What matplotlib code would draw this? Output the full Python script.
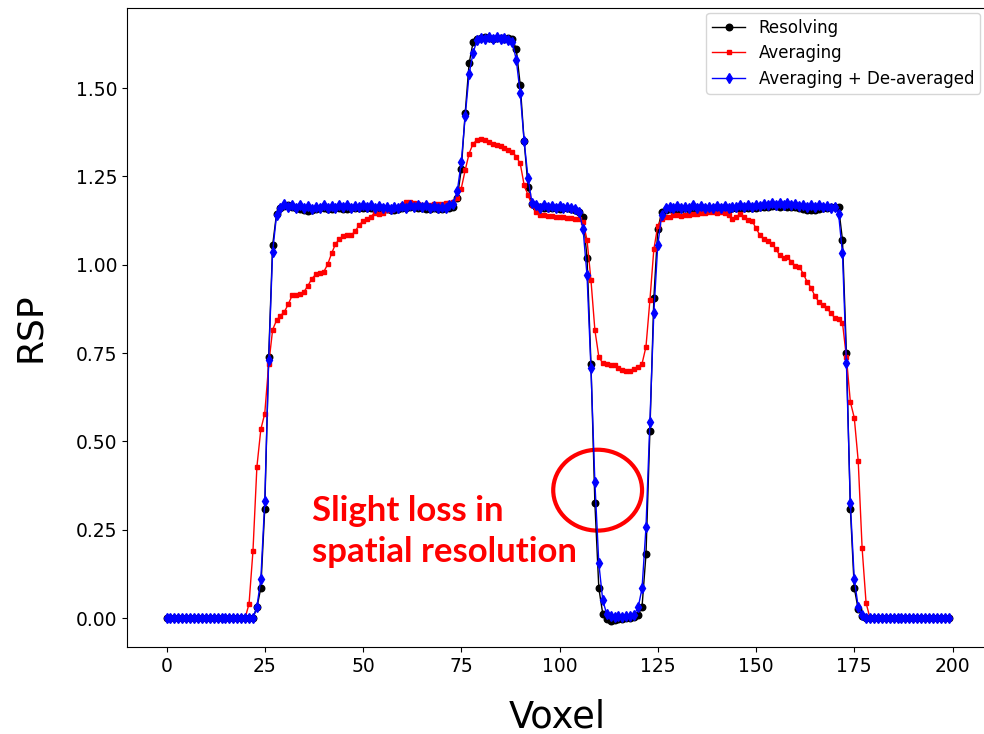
import matplotlib
matplotlib.use("Agg")
import matplotlib.pyplot as plt
from matplotlib.patches import Ellipse
import numpy as np

voxel = list(range(200))

resolving = [
    0, 0, 0, 0, 0, 0, 0, 0, 0, 0,
    0, 0, 0, 0, 0, 0, 0, 0, 0, 0,
    0.0, 0.0, 0.0, 0.03, 0.085, 0.31, 0.74, 1.055, 1.145, 1.16,
    1.166, 1.168, 1.165, 1.16, 1.157, 1.154, 1.153, 1.155, 1.158, 1.16,
    1.16, 1.158, 1.159, 1.161, 1.16, 1.158, 1.159, 1.161, 1.162, 1.162,
    1.162, 1.161, 1.16, 1.158, 1.159, 1.16, 1.158, 1.156, 1.155, 1.157,
    1.16, 1.162, 1.164, 1.164, 1.162, 1.16, 1.158, 1.159, 1.16, 1.158,
    1.159, 1.161, 1.162, 1.165, 1.19, 1.27, 1.43, 1.57, 1.63, 1.64,
    1.643, 1.645, 1.642, 1.64, 1.643, 1.642, 1.64, 1.642, 1.64, 1.61,
    1.51, 1.35, 1.22, 1.172, 1.165, 1.165, 1.162, 1.162, 1.16, 1.16,
    1.158, 1.16, 1.16, 1.158, 1.155, 1.15, 1.135, 1.02, 0.72, 0.325,
    0.085, 0.012, -0.004, -0.008, -0.006, -0.004, -0.002, 0.0, 0.0, 0.002,
    0.008, 0.032, 0.18, 0.53, 0.905, 1.10, 1.15, 1.156, 1.158, 1.157,
    1.156, 1.158, 1.16, 1.159, 1.158, 1.16, 1.161, 1.16, 1.159, 1.16,
    1.16, 1.161, 1.16, 1.159, 1.16, 1.161, 1.162, 1.161, 1.16, 1.161,
    1.162, 1.163, 1.164, 1.165, 1.166, 1.166, 1.165, 1.166, 1.165, 1.164,
    1.163, 1.16, 1.158, 1.155, 1.154, 1.155, 1.157, 1.16, 1.162, 1.163,
    1.164, 1.164, 1.07, 0.75, 0.31, 0.085, 0.025, 0.005, 0.0, 0.0,
    0, 0, 0, 0, 0, 0, 0, 0, 0, 0,
    0, 0, 0, 0, 0, 0, 0, 0, 0, 0,
]

averaging = [
    0, 0, 0, 0, 0, 0, 0, 0, 0, 0,
    0, 0, 0, 0, 0, 0, 0, 0, 0, 0,
    0.0, 0.04, 0.19, 0.428, 0.534, 0.579, 0.718, 0.816, 0.843, 0.856,
    0.867, 0.889, 0.914, 0.914, 0.917, 0.924, 0.941, 0.961, 0.973, 0.976,
    0.98, 1.001, 1.032, 1.059, 1.073, 1.082, 1.084, 1.084, 1.095, 1.112,
    1.124, 1.13, 1.136, 1.148, 1.145, 1.148, 1.155, 1.155, 1.16, 1.165,
    1.17, 1.178, 1.178, 1.175, 1.172, 1.17, 1.168, 1.17, 1.172, 1.172,
    1.172, 1.174, 1.175, 1.178, 1.19, 1.216, 1.268, 1.315, 1.343, 1.353,
    1.355, 1.353, 1.348, 1.343, 1.339, 1.336, 1.33, 1.325, 1.32, 1.306,
    1.287, 1.226, 1.197, 1.169, 1.15, 1.142, 1.14, 1.138, 1.138, 1.136,
    1.135, 1.134, 1.133, 1.132, 1.131, 1.13, 1.122, 1.07, 0.957, 0.815,
    0.74, 0.721, 0.72, 0.717, 0.716, 0.707, 0.702, 0.70, 0.70, 0.706,
    0.711, 0.72, 0.768, 0.90, 1.044, 1.11, 1.13, 1.135, 1.135, 1.14,
    1.14, 1.138, 1.14, 1.142, 1.145, 1.145, 1.148, 1.148, 1.15, 1.15,
    1.148, 1.15, 1.148, 1.14, 1.13, 1.135, 1.145, 1.135, 1.128, 1.125,
    1.103, 1.084, 1.072, 1.068, 1.059, 1.046, 1.027, 1.018, 1.021, 1.009,
    0.996, 0.995, 0.975, 0.952, 0.935, 0.911, 0.895, 0.886, 0.877, 0.864,
    0.85, 0.846, 0.836, 0.738, 0.612, 0.567, 0.445, 0.197, 0.043, 0.0,
    0, 0, 0, 0, 0, 0, 0, 0, 0, 0,
    0, 0, 0, 0, 0, 0, 0, 0, 0, 0,
]

deaveraged = [
    0, 0, 0, 0, 0, 0, 0, 0, 0, 0,
    0, 0, 0, 0, 0, 0, 0, 0, 0, 0,
    0.0, 0.0, 0.0, 0.032, 0.11, 0.33, 0.73, 1.037, 1.14, 1.162,
    1.172, 1.165, 1.17, 1.162, 1.168, 1.16, 1.166, 1.158, 1.165, 1.162,
    1.168, 1.16, 1.166, 1.162, 1.17, 1.163, 1.168, 1.16, 1.167, 1.163,
    1.17, 1.164, 1.168, 1.162, 1.166, 1.16, 1.165, 1.158, 1.164, 1.16,
    1.166, 1.162, 1.168, 1.164, 1.17, 1.165, 1.168, 1.162, 1.166, 1.16,
    1.165, 1.162, 1.168, 1.172, 1.21, 1.29, 1.42, 1.54, 1.60, 1.635,
    1.642, 1.638, 1.645, 1.64, 1.644, 1.638, 1.642, 1.636, 1.63, 1.58,
    1.485, 1.35, 1.245, 1.175, 1.168, 1.162, 1.168, 1.163, 1.167, 1.16,
    1.166, 1.162, 1.165, 1.16, 1.158, 1.15, 1.10, 0.97, 0.707, 0.384,
    0.155, 0.05, 0.012, 0.005, 0.004, 0.006, 0.004, 0.005, 0.006, 0.01,
    0.03, 0.084, 0.257, 0.556, 0.864, 1.056, 1.14, 1.16, 1.165, 1.16,
    1.166, 1.16, 1.165, 1.162, 1.168, 1.162, 1.166, 1.16, 1.165, 1.162,
    1.167, 1.162, 1.166, 1.16, 1.165, 1.163, 1.168, 1.164, 1.17, 1.165,
    1.17, 1.166, 1.172, 1.168, 1.174, 1.17, 1.175, 1.17, 1.174, 1.168,
    1.172, 1.166, 1.17, 1.165, 1.168, 1.164, 1.168, 1.163, 1.166, 1.162,
    1.165, 1.145, 1.032, 0.721, 0.325, 0.11, 0.032, 0.008, 0.0, 0.0,
    0, 0, 0, 0, 0, 0, 0, 0, 0, 0,
    0, 0, 0, 0, 0, 0, 0, 0, 0, 0,
]

series_labels = ["Resolving", "Averaging", "Averaging + De-averaged"]
xticks = [0, 25, 50, 75, 100, 125, 150, 175, 200]
yticks = [0.00, 0.25, 0.50, 0.75, 1.00, 1.25, 1.50]

W, H = 984, 734
fig = plt.figure(figsize=(W / 100, H / 100), dpi=100)
left, right, bottom, top = 127.4, 987.7, 647, 8
ax_w = right - left
ax_h = bottom - top
ax = fig.add_axes([left / W, (H - bottom) / H, ax_w / W, ax_h / H])

ax.plot(voxel, resolving, color="black", marker="o", markersize=4.7, linewidth=1.0, label=series_labels[0])
ax.plot(voxel, averaging, color="red", marker="s", markersize=2.6, linewidth=1.0, label=series_labels[1])
ax.plot(voxel, deaveraged, color="blue", marker="d", markersize=5, linewidth=1.0, label=series_labels[2])

ax.set_xlim(-9.95, 208.95)
ax.set_ylim(-0.082, 1.727)
ax.set_xticks(xticks)
ax.set_yticks(yticks)
ax.set_yticklabels([f"{v:.2f}" for v in yticks])
ax.tick_params(labelsize=13.5)
ax.set_xlabel("Voxel", fontsize=26.5)
ax.set_ylabel("RSP", fontsize=26)
ax.xaxis.set_label_coords(0.5, (bottom - 698) / ax_h)
ax.yaxis.set_label_coords((47 - left) / ax_w, 0.5)

ax.legend(loc="upper right", fontsize=12, labelspacing=0.45, borderpad=0.35,
          bbox_to_anchor=(980 / W, (H - 13) / H), bbox_transform=fig.transFigure,
          borderaxespad=0)

ell = Ellipse((109.7, 0.362), 22.6, 0.229, fill=False, edgecolor="red", linewidth=3)
ax.add_patch(ell)

fig.text(312 / W, (H - 521) / H, "Slight loss in", color="red", fontsize=25,
         fontweight="bold", family=["Lato", "DejaVu Sans"], va="baseline", ha="left")
fig.text(312 / W, (H - 562) / H, "spatial resolution", color="red", fontsize=25,
         fontweight="bold", family=["Lato", "DejaVu Sans"], va="baseline", ha="left")

fig.savefig("out.png", dpi=100)
